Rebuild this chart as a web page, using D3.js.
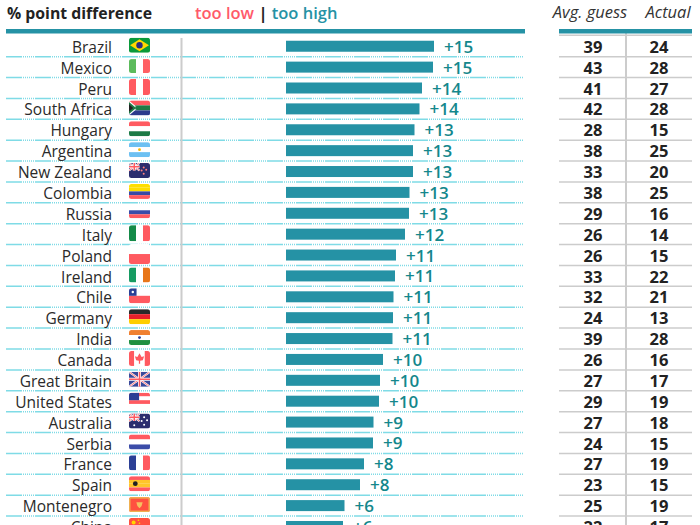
<!DOCTYPE html>
<html><head><meta charset="utf-8">
<script src="https://cdn.jsdelivr.net/npm/d3@7"></script>
<style>html,body{margin:0;padding:0;background:#fff}svg{display:block}text{font-family:"Open Sans",sans-serif}</style>
</head><body><svg id="c" width="700" height="525"></svg>
<script>
const countries=["Brazil","Mexico","Peru","South Africa","Hungary","Argentina","New Zealand","Colombia","Russia","Italy","Poland","Ireland","Chile","Germany","India","Canada","Great Britain","United States","Australia","Serbia","France","Spain","Montenegro","China"];
const differences=[14.8,14.7,13.6,13.35,12.85,12.7,12.7,12.35,12.3,11.9,11,10.9,10.75,10.7,10.65,9.7,9.4,9.3,8.75,8.7,7.8,7.4,5.85,5.7];
const diffLabels=["+15","+15","+14","+14","+13","+13","+13","+13","+13","+12","+11","+11","+11","+11","+11","+10","+10","+10","+9","+9","+8","+8","+6","+6"];
const avgGuess=[39,43,41,42,28,38,33,38,29,26,26,33,32,24,39,26,27,29,27,24,27,23,25,22];
const actual=[24,28,27,28,15,25,20,25,16,14,15,22,21,13,28,16,17,19,18,15,19,15,19,17];
const flagStripes=[
["h","#0a9a3a"],["v","#5cbb5c","#fff","#ff5f63"],["v","#ff5a60","#fff","#ff5a60"],["h","#ff5a60","#1f7a45","#2c3a8c"],["h","#ff5a60","#fff","#1c7a45"],["h","#6cc0f2","#fff","#6cc0f2"],["h","#2b2d6e"],["h","#ffde00","#ffde00","#3a4aa5","#ff5a60"],["h","#fff","#3b4ca8","#ff5a60"],["v","#148a48","#fff","#ff5a60"],["h","#fff","#ff5a60"],["v","#169b62","#fff","#e8761a"],["h","#fff","#ff5a60"],["h","#2a2a2a","#e8202a","#ffce00"],["h","#f08030","#fff","#1f9040"],["v","#ff5a60","#fff","#fff","#ff5a60"],["h","#fff"],["h","#ff5a60","#fff","#ff5a60","#fff"],["h","#2b2d6e"],["h","#ff5a60","#fff","#3b4ca8"],["v","#2b3f95","#fff","#ff5a60"],["h","#ff5a60","#ffc62a","#ffc62a","#ff5a60"],["h","#ff5040"],["h","#ff5040"]];
const flagHeights=[15,14,16,15,15,15,15,15,12,16,20,15,15,15,15,15,15,15,15,15,15,15,15,15];

const teal="#2592a5",rowTop=35.8,rowStep=20.88;
const svg=d3.select("#c");
const y=d3.scaleBand().domain(countries).range([rowTop,rowTop+rowStep*countries.length]);
const x=d3.scaleLinear().domain([0,15]).range([286,436]);
const cx=c=>y(c)+y.bandwidth()/2;

svg.append("text").attr("x",7).attr("y",19).attr("font-size",15.8).attr("font-weight",700).attr("fill","#222").text("% point difference");
const leg=svg.append("text").attr("x",195).attr("y",19).attr("font-size",16.5).attr("font-weight",600);
leg.append("tspan").attr("fill","#ff5a6a").text("too low");
leg.append("tspan").attr("fill","#222").attr("font-weight",700).text(" | ");
leg.append("tspan").attr("fill",teal).text("too high");
svg.append("text").attr("x",590).attr("y",18).attr("font-size",16.5).attr("font-style","italic").attr("text-anchor","middle").attr("fill","#333").text("Avg. guess");
svg.append("text").attr("x",668).attr("y",18).attr("font-size",16.5).attr("font-style","italic").attr("text-anchor","middle").attr("fill","#333").text("Actual");

const seps=countries.map(c=>y(c)+y.bandwidth());
svg.selectAll(".dot").data(seps).join("line").attr("x1",6).attr("x2",524).attr("y1",d=>d).attr("y2",d=>d)
 .attr("stroke","#7fdbe6").attr("stroke-width",1.5).attr("stroke-dasharray","16 1 1 1 1 1 1 1 1 1 1 1 1 1");
svg.selectAll(".tline").data([35.3,...seps]).join("line").attr("x1",559).attr("x2",692).attr("y1",d=>d).attr("y2",d=>d)
 .attr("stroke","#ccc").attr("stroke-width",1.5);
svg.append("line").attr("x1",181.5).attr("x2",181.5).attr("y1",38).attr("y2",525).attr("stroke","#ccc").attr("stroke-width",2);
svg.append("line").attr("x1",626).attr("x2",626).attr("y1",33).attr("y2",525).attr("stroke","#ccc").attr("stroke-width",2);
svg.append("rect").attr("x",6).attr("y",29).attr("width",519).attr("height",4.5).attr("fill",teal);
svg.append("rect").attr("x",559).attr("y",29).attr("width",133).attr("height",4.5).attr("fill",teal);

svg.selectAll(".name").data(countries).join("text").attr("x",112).attr("y",d=>cx(d)+6.6).attr("text-anchor","end")
 .attr("font-size",15.5).attr("fill","#2a2a2a").text(d=>d);
svg.selectAll(".bar").data(countries).join("rect").attr("x",x(0)).attr("y",d=>cx(d)-5.5).attr("height",11)
 .attr("width",(d,i)=>x(differences[i])-x(0)).attr("fill",teal);
svg.selectAll(".lab").data(countries).join("text").attr("x",(d,i)=>x(differences[i])+10).attr("y",d=>cx(d)+6.5)
 .attr("font-size",17).attr("font-weight",600).attr("fill","#14878c").text((d,i)=>diffLabels[i]);
svg.selectAll(".g").data(countries).join("text").attr("x",593).attr("y",d=>cx(d)+6.6).attr("text-anchor","middle")
 .attr("font-size",16.5).attr("font-weight",700).attr("fill","#222").text((d,i)=>avgGuess[i]);
svg.selectAll(".a").data(countries).join("text").attr("x",659).attr("y",d=>cx(d)+6.6).attr("text-anchor","middle")
 .attr("font-size",16.5).attr("font-weight",700).attr("fill","#222").text((d,i)=>actual[i]);

const defs=svg.append("defs");
countries.forEach((c,i)=>{
 const w=21,h=flagHeights[i],x0=129,y0=cx(c)-h/2-1;
 const id="f"+i;
 defs.append("clipPath").attr("id",id).append("rect").attr("x",x0).attr("y",y0).attr("width",w).attr("height",h).attr("rx",2.5);
 const g=svg.append("g").attr("clip-path",`url(#${id})`);
 const [dir,...cols]=flagStripes[i];
 cols.forEach((col,k)=>{
  if(dir==="h") g.append("rect").attr("x",x0).attr("y",y0+k*h/cols.length).attr("width",w).attr("height",h/cols.length).attr("fill",col);
  else g.append("rect").attr("x",x0+k*w/cols.length).attr("y",y0).attr("width",w/cols.length).attr("height",h).attr("fill",col);
 });
 const X=t=>x0+t*w,Y=t=>y0+t*h;
 const poly=(pts,fill)=>g.append("polygon").attr("points",pts.map(p=>[X(p[0]),Y(p[1])].join(",")).join(" ")).attr("fill",fill);
 const rect=(a,b,cw,ch,fill)=>g.append("rect").attr("x",X(a)).attr("y",Y(b)).attr("width",cw*w).attr("height",ch*h).attr("fill",fill);
 const dot=(a,b,r,fill)=>g.append("circle").attr("cx",X(a)).attr("cy",Y(b)).attr("r",r).attr("fill",fill);
 const jack=(cw,ch)=>{
  const l=(a,b,c2,d,sw,col)=>g.append("line").attr("x1",X(a)).attr("y1",Y(b)).attr("x2",X(c2)).attr("y2",Y(d)).attr("stroke",col).attr("stroke-width",sw);
  l(0,0,cw,ch,2,"#fff");l(cw,0,0,ch,2,"#fff");l(0,0,cw,ch,.8,"#ff5a60");l(cw,0,0,ch,.8,"#ff5a60");
  l(cw/2,0,cw/2,ch,3,"#fff");l(0,ch/2,cw,ch/2,3,"#fff");l(cw/2,0,cw/2,ch,1.5,"#ff5a60");l(0,ch/2,cw,ch/2,1.5,"#ff5a60");
 };
 if(c==="Brazil"){poly([[.5,.1],[.95,.5],[.5,.9],[.05,.5]],"#ffd800");dot(.5,.5,3.2,"#2b2d7e");}
 if(c==="South Africa"){poly([[0,0],[.42,.5],[0,1]],"#fff");poly([[0,.1],[.34,.5],[0,.9]],"#1f7a45");poly([[0,.25],[.2,.5],[0,.75]],"#222");rect(.3,.4,.7,.2,"#1f7a45");}
 if(c==="Argentina")dot(.5,.5,1.4,"#f5b800");
 if(c==="New Zealand"){jack(.5,.5);[[.7,.3],[.82,.45],[.7,.72],[.6,.5]].forEach(p=>dot(p[0],p[1],1,"#ff8080"));}
 if(c==="Chile"){rect(0,0,.36,.5,"#2b3f95");dot(.18,.25,1.2,"#fff");}
 if(c==="India")dot(.5,.5,1.4,"#2b3f95");
 if(c==="Canada"){poly([[.5,.15],[.6,.4],[.72,.35],[.66,.62],[.53,.65],[.53,.85],[.47,.85],[.47,.65],[.34,.62],[.28,.35],[.4,.4]],"#ff5a60");}
 if(c==="Great Britain"){g.append("rect").attr("x",x0).attr("y",y0).attr("width",w).attr("height",h).attr("fill","#3a4a9a");jack(1,1);}
 if(c==="United States"){rect(0,0,.48,.5,"#2b3f95");}
 if(c==="Australia"){jack(.5,.5);[[.25,.78],[.72,.25],[.86,.45],[.72,.75],[.6,.5]].forEach(p=>dot(p[0],p[1],1,"#fff"));}
 if(c==="Spain")dot(.3,.5,2.4,"#222");
 if(c==="Montenegro"){g.append("rect").attr("x",x0+.75).attr("y",y0+.75).attr("width",w-1.5).attr("height",h-1.5).attr("fill","none").attr("stroke","#f0b050").attr("stroke-width",1.5);poly([[.35,.35],[.65,.35],[.6,.6],[.5,.75],[.4,.6]],"#f5c060");}
 if(c==="China"){dot(.22,.3,2,"#ffd800");dot(.45,.15,.8,"#ffd800");dot(.5,.35,.8,"#ffd800");}
});
</script></body></html>
